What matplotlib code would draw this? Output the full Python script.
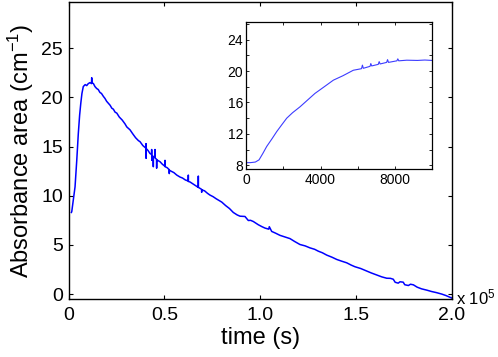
import numpy as np
import matplotlib
matplotlib.use('Agg')
import matplotlib.pyplot as plt
from matplotlib.ticker import MultipleLocator, FuncFormatter

plt.rcParams['font.family'] = ['Liberation Sans', 'DejaVu Sans']
plt.rcParams['mathtext.default'] = 'regular'

# main trace: time (s) and absorbance area (cm-1)
t_main = [1500, 1700, 2500, 3400, 4300, 5100, 5800, 6400, 7000, 7700, 8700, 9500,
          10300, 11200, 12000, 12100, 12200, 13000, 13800, 14700, 15500, 16400,
          17200, 18200, 19000, 19900, 20800, 21700, 22600, 23400, 24300, 25200,
          26500, 28000, 29500, 30400, 32100, 33500, 35000, 36500, 37300, 38800,
          40000, 40400, 40450, 40500, 40550, 41500, 42500, 43350, 43400, 43450,
          43500, 44200, 44260, 44320, 45100, 45140, 45180, 45950, 46000, 46050,
          47000, 47750, 49000, 50300, 50360, 50420, 51500, 52550, 52600, 52650,
          53500, 55000, 56500, 58200, 59500, 61000, 62480, 62530, 62580, 63400,
          65000, 66500, 67700, 67750, 67800, 68600, 69450, 69500, 69550, 71000,
          72500, 73800, 75500, 77000, 78200, 80000, 82000, 84000, 86000, 88000,
          89500, 92100, 93850, 95000, 96450, 99060, 101000, 102560, 104500, 104800,
          106050, 108000, 110400, 113000, 115600, 118000, 120800, 123500, 126000,
          128500, 130400, 132500, 134800, 137500, 140000, 142500, 145200, 147500,
          149500, 152500, 155600, 158000, 160900, 163500, 166100, 168000, 169500,
          170500, 172100, 173000, 174700, 175500, 177400, 178500, 180000, 182000,
          184300, 187000, 189500, 192000, 194800, 197000, 200000]
a_main = [8.3, 8.4, 9.6, 10.9, 13.6, 16.3, 18.2, 19.4, 20.4, 21.1, 21.3, 21.2,
          21.4, 21.5, 21.4, 22.0, 21.5, 21.4, 21.1, 20.9, 20.8, 20.5,
          20.4, 20.1, 19.9, 19.6, 19.4, 19.2, 18.9, 18.8, 18.5, 18.4,
          18.0, 17.7, 17.3, 17.0, 16.7, 16.3, 15.9, 15.6, 15.5, 15.1,
          14.9, 14.85, 15.3, 13.8, 14.8, 14.6, 14.3, 14.2, 14.7, 13.6,
          14.1, 14.0, 12.95, 13.95, 13.9, 14.7, 13.85, 13.7, 12.8, 13.65,
          13.55, 13.46, 13.2, 13.0, 13.6, 12.95, 12.85, 12.65, 12.25, 12.6,
          12.5, 12.35, 12.1, 11.9, 11.8, 11.6, 11.5, 12.1, 11.45, 11.4,
          11.2, 11.0, 10.85, 12.0, 10.85, 10.75, 10.65, 10.35, 10.6, 10.5,
          10.25, 10.07, 9.9, 9.7, 9.56, 9.35, 9.0, 8.7, 8.3, 8.05,
          7.92, 7.89, 7.48, 7.5, 7.38, 7.05, 6.85, 6.71, 6.6, 6.85,
          6.37, 6.2, 5.97, 5.8, 5.64, 5.35, 5.04, 4.9, 4.7,
          4.55, 4.36, 4.2, 3.96, 3.75, 3.52, 3.35, 3.18, 2.95,
          2.78, 2.6, 2.35, 2.15, 1.94, 1.75, 1.61, 1.6, 1.51,
          1.2, 1.11, 1.25, 1.21, 0.95, 0.87, 1.0, 0.94, 0.7,
          0.53, 0.4, 0.26, 0.15, 0.0, -0.15, -0.4]

# inset: first 10000 s
t_inset = [0, 250, 500, 700, 900, 1110, 1400, 1650, 1900, 2185, 2500, 2900, 3300,
           3700, 4200, 4690, 5200, 5760, 6200, 6250, 6300, 6660, 6700, 6750, 7100,
           7150, 7200, 7550, 7600, 7650, 8100, 8150, 8200, 8630, 9200, 9600, 10000]
a_inset = [8.34, 8.35, 8.42, 8.7, 9.5, 10.4, 11.4, 12.3, 13.1, 14.0, 14.7, 15.45, 16.3,
           17.15, 18.0, 18.84, 19.4, 20.1, 20.3, 20.75, 20.35, 20.6, 20.95, 20.65, 20.85,
           21.2, 20.9, 21.1, 21.45, 21.1, 21.3, 21.55, 21.3, 21.38, 21.35, 21.4, 21.35]

fig = plt.figure(figsize=(4.98, 3.57), dpi=100)
ax = fig.add_axes([0.1376, 0.1625, 0.907 - 0.1376, 0.9944 - 0.1625])
ax.plot(t_main, a_main, color='#0000ff', lw=1.1)
ax.set_xlim(0, 2e5)
ax.set_ylim(-0.5, 29.7)
ax.xaxis.set_major_locator(MultipleLocator(0.5e5))
ax.yaxis.set_major_locator(MultipleLocator(5))
ax.xaxis.set_major_formatter(FuncFormatter(lambda v, p: '0' if v == 0 else '%.1f' % (v / 1e5)))
ax.tick_params(direction='in', top=True, right=True, length=3, width=0.8, labelsize=14)
ax.tick_params(axis='x', pad=6)
ax.tick_params(axis='y', pad=4)
for s in ax.spines.values():
    s.set_linewidth(1.0)
ax.set_xlabel('time (s)', fontsize=17, labelpad=2)
ax.set_ylabel('Absorbance area (cm$^{-1}$)', fontsize=17, labelpad=4)
fig.text(456 / 498, 1 - 297 / 357, 'x 10$^5$', fontsize=12, va='center', ha='left')

ins = fig.add_axes([0.494, 0.5258, 0.868 - 0.494, 0.9375 - 0.5258])
ins.plot(t_inset, a_inset, color='#3c3cff', lw=0.8)
ins.set_xlim(0, 10000)
ins.set_ylim(7.5, 26.2)
ins.xaxis.set_major_locator(MultipleLocator(4000))
ins.xaxis.set_minor_locator(MultipleLocator(2000))
ins.yaxis.set_major_locator(MultipleLocator(4))
ins.yaxis.set_minor_locator(MultipleLocator(2))
ins.tick_params(which='both', direction='in', top=True, right=True, length=2.5, width=0.6)
ins.tick_params(labelsize=10)
ins.tick_params(axis='x', pad=3)
ins.tick_params(axis='y', pad=2)
for s in ins.spines.values():
    s.set_linewidth(0.9)

fig.savefig('out.png', dpi=100)
